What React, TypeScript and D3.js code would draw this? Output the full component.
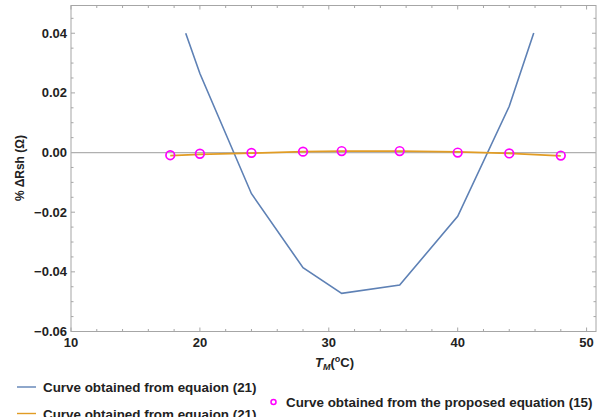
import React from "react";
import * as d3 from "d3";

// Module temperature (°C) and percentage change in shunt resistance
const eq21X = [18.9, 20, 24, 28, 31, 35.5, 40, 44, 45.9];
const eq21Y = [0.04, 0.0265, -0.0138, -0.0386, -0.0472, -0.0444, -0.0214, 0.0155, 0.0401];

const eq21bX = [17.7, 20, 24, 28, 31, 35.5, 40, 44, 48];
const eq21bY = [-0.001, -0.0006, -0.0002, 0.0003, 0.0005, 0.0005, 0.0002, -0.0003, -0.0011];

const eq15X = [17.7, 20, 24, 28, 31, 35.5, 40, 44, 48];
const eq15Y = [-0.0009, -0.0004, -0.0001, 0.0003, 0.0005, 0.0005, 0.0, -0.0003, -0.001];

const xTicks = [10, 20, 30, 40, 50];
const yTicks = [0.04, 0.02, 0.0, -0.02, -0.04, -0.06];

const legendLabels = [
  "Curve obtained from equaion (21)",
  "Curve obtained from equaion (21)",
  "Curve obtained from the proposed equation (15)",
];

const W = 600;
const H = 417;
const left = 71;
const right = 596;
const top = 5.5;
const bottom = 331.5;

const BLUE = "#5E81B5";
const ORANGE = "#E19C24";
const MAGENTA = "#FF00FF";
const FRAME = "#a6a6a6";
const TEXT = "#222222";
const FONT = "'Liberation Sans', Arial, sans-serif";

export default function App() {
  const x = d3.scaleLinear().domain([10, 50.73]).range([left, right]);
  const y = d3.scaleLinear().domain([-0.06, 0.0493]).range([bottom, top]);

  const line = d3
    .line<[number, number]>()
    .x((d) => x(d[0]))
    .y((d) => y(d[1]));

  const blue = eq21X.map((v, i) => [v, eq21Y[i]] as [number, number]);
  const orange = eq21bX.map((v, i) => [v, eq21bY[i]] as [number, number]);

  const xMinor = d3.range(10, 51, 2).filter((v) => !xTicks.includes(v));
  const yMinor = d3
    .range(-0.06, 0.0491, 0.005)
    .map((v) => Math.round(v * 1000) / 1000)
    .filter((v) => !yTicks.some((t) => Math.abs(t - v) < 1e-9));

  const fmt = (v: number) => {
    const s = Math.abs(v).toFixed(2);
    return v < -1e-9 ? "\u2212" + s : s;
  };

  return (
    <svg
      width={W}
      height={H}
      style={{ position: "absolute", left: 0, top: 0, background: "#fff" }}
      fontFamily={FONT}
    >
      {/* frame */}
      <rect
        x={left}
        y={top}
        width={right - left}
        height={bottom - top}
        fill="none"
        stroke={FRAME}
        strokeWidth={1}
      />

      {/* ticks on all four sides, pointing inward */}
      {xTicks.map((t) => (
        <g key={"xt" + t} stroke={FRAME}>
          <line x1={x(t)} x2={x(t)} y1={bottom} y2={bottom - 4} />
          <line x1={x(t)} x2={x(t)} y1={top} y2={top + 4} />
        </g>
      ))}
      {xMinor.map((t) => (
        <g key={"xm" + t} stroke={FRAME}>
          <line x1={x(t)} x2={x(t)} y1={bottom} y2={bottom - 2.5} />
          <line x1={x(t)} x2={x(t)} y1={top} y2={top + 2.5} />
        </g>
      ))}
      {yTicks.map((t) => (
        <g key={"yt" + t} stroke={FRAME}>
          <line x1={left} x2={left + 4} y1={y(t)} y2={y(t)} />
          <line x1={right} x2={right - 4} y1={y(t)} y2={y(t)} />
        </g>
      ))}
      {yMinor.map((t) => (
        <g key={"ym" + t} stroke={FRAME}>
          <line x1={left} x2={left + 2.5} y1={y(t)} y2={y(t)} />
          <line x1={right} x2={right - 2.5} y1={y(t)} y2={y(t)} />
        </g>
      ))}

      {/* tick labels */}
      {xTicks.map((t) => (
        <text
          key={"xl" + t}
          x={x(t)}
          y={347}
          textAnchor="middle"
          fontSize={13}
          fontWeight="bold"
          fill={TEXT}
        >
          {t}
        </text>
      ))}
      {yTicks.map((t) => (
        <text
          key={"yl" + t}
          x={67}
          y={y(t) + 4.6}
          textAnchor="end"
          fontSize={13}
          fontWeight="bold"
          fill={TEXT}
        >
          {fmt(t)}
        </text>
      ))}

      {/* zero reference line */}
      <line x1={left} x2={right} y1={y(0)} y2={y(0)} stroke="#b0b0b0" strokeWidth={1.2} />

      {/* series */}
      <path d={line(blue) ?? ""} fill="none" stroke={BLUE} strokeWidth={1.6} />
      <path d={line(orange) ?? ""} fill="none" stroke={ORANGE} strokeWidth={1.8} />
      {eq15X.map((v, i) => (
        <circle
          key={"c" + i}
          cx={x(v)}
          cy={y(eq15Y[i])}
          r={4.3}
          fill="none"
          stroke={MAGENTA}
          strokeWidth={1.7}
        />
      ))}

      {/* axis titles */}
      <text
        transform={`translate(24, 168) rotate(-90)`}
        textAnchor="middle"
        fontSize={12}
        fontWeight="bold"
        fill={TEXT}
      >
        % ΔRsh (Ω)
      </text>
      <text x={315} y={367} fontSize={13} fontWeight="bold" fill={TEXT}>
        <tspan fontStyle="italic">T</tspan>
        <tspan fontStyle="italic" fontSize={9} dy={3}>
          M
        </tspan>
        <tspan dy={-3}>(</tspan>
        <tspan fontSize={9} dy={-5}>
          o
        </tspan>
        <tspan dy={5}>C)</tspan>
      </text>

      {/* legend */}
      <line x1={17} x2={36} y1={387} y2={387} stroke={BLUE} strokeWidth={1.4} />
      <text x={43} y={392} fontSize={13.4} fontWeight="bold" fill={TEXT}>
        {legendLabels[0]}
      </text>
      <line x1={17} x2={36} y1={413.5} y2={413.5} stroke={ORANGE} strokeWidth={1.4} />
      <text x={43} y={418.5} fontSize={13.4} fontWeight="bold" fill={TEXT}>
        {legendLabels[1]}
      </text>
      <circle cx={273.5} cy={402} r={2.5} fill="none" stroke={MAGENTA} strokeWidth={1.5} />
      <text x={286} y={406.5} fontSize={13.4} fontWeight="bold" fill={TEXT}>
        {legendLabels[2]}
      </text>
    </svg>
  );
}
